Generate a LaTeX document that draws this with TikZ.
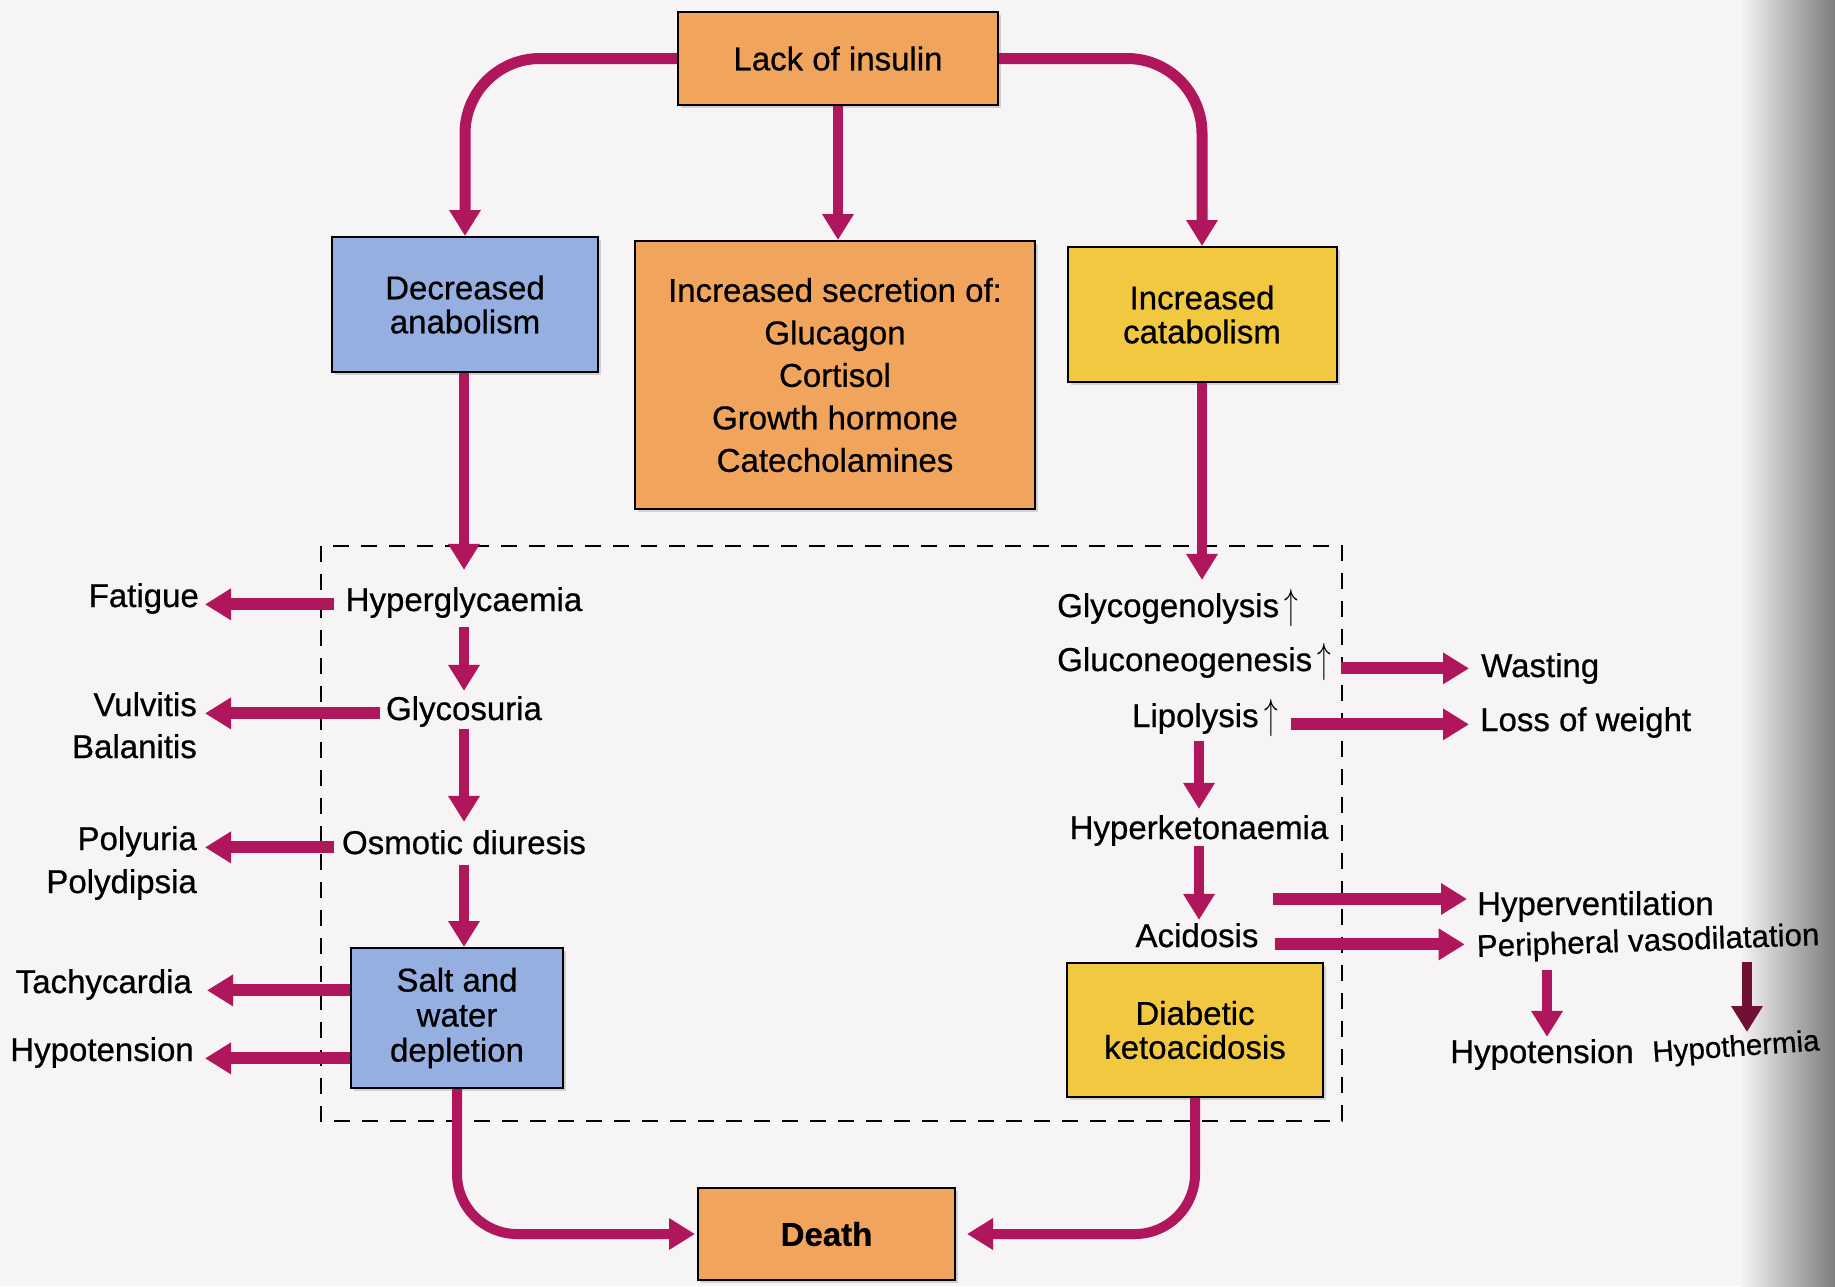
\documentclass[tikz,border=0pt]{standalone}
\usepackage{fontspec}
\setmainfont{Liberation Sans}[FakeBold=0.6]
\usetikzlibrary{arrows.meta,shadows}
\definecolor{arrowc}{RGB}{176,22,92}
\definecolor{arrowdark}{RGB}{112,16,52}
\definecolor{boxorange}{RGB}{240,164,92}
\definecolor{boxblue}{RGB}{150,175,225}
\definecolor{boxyellow}{RGB}{243,200,65}
\definecolor{pagebg}{RGB}{246,244,244}
\definecolor{edgegray}{RGB}{125,125,125}
\newcommand{\upar}{\,\raisebox{-1.5pt}{\scalebox{1.1}[1.7]{$\uparrow$}}}
\begin{document}
\begin{tikzpicture}[x=1pt,y=-1pt,
  every node/.style={font=\fontsize{33}{34}\selectfont, text=black},
  box/.style={draw=black, line width=2pt, align=center, inner sep=0pt,
    drop shadow={shadow xshift=3pt, shadow yshift=-3pt, opacity=0.3}},
  lbl/.style={inner sep=0pt},
  conn/.style={draw=arrowc, -{Triangle[width=30pt,length=26pt]}},
  varr/.style={conn, line width=10pt},
  harr/.style={conn, line width=12pt},
]
\useasboundingbox (0,0) rectangle (1835,1286);
\fill[pagebg] (0,0) rectangle (1835,1286);
\shade[left color=pagebg, right color=edgegray] (1740,0) rectangle (1835,1286);

% dashed frame
\draw[black, line width=2.2pt, dash pattern=on 16pt off 12pt] (321,546) rectangle (1342,1121);

% boxes
\node[box, fill=boxorange, minimum width=320pt, minimum height=93pt] (lack) at (838,58.5) {Lack of insulin};
\node[box, fill=boxblue, minimum width=266pt, minimum height=135pt] (dec) at (465,304.5) {Decreased\\anabolism};
\node[box, fill=boxorange, minimum width=400pt, minimum height=268pt, font=\fontsize{33}{42.5}\selectfont] (sec) at (835,375) {Increased secretion of:\\Glucagon\\Cortisol\\Growth hormone\\Catecholamines};
\node[box, fill=boxyellow, minimum width=269pt, minimum height=135pt] (cat) at (1202,314.5) {Increased\\catabolism};
\node[box, fill=boxblue, minimum width=212pt, minimum height=140pt, font=\fontsize{33}{35}\selectfont] (salt) at (457,1018) {Salt and\\water\\depletion};
\node[box, fill=boxyellow, minimum width=256pt, minimum height=134pt] (dka) at (1195,1030) {Diabetic\\ketoacidosis};
\node[box, fill=boxorange, minimum width=257pt, minimum height=92pt, font=\fontsize{33}{34}\selectfont\bfseries] (death) at (826.5,1234) {Death};

% left column labels
\node[lbl, anchor=base] (hyp) at (464,611) {Hyperglycaemia};
\node[lbl, anchor=base east] (fat) at (199,607) {Fatigue};
\node[lbl, anchor=base] (gly) at (464,720) {Glycosuria};
\node[lbl, anchor=base east] (vul) at (197,716) {Vulvitis};
\node[lbl, anchor=base east] (bal) at (197,758) {Balanitis};
\node[lbl, anchor=base] (osm) at (464,854) {Osmotic diuresis};
\node[lbl, anchor=base east] (pu) at (197,850) {Polyuria};
\node[lbl, anchor=base east] (pd) at (197,893) {Polydipsia};
\node[lbl, anchor=base east] (tach) at (192,993) {Tachycardia};
\node[lbl, anchor=base east] (hypoL) at (194,1061) {Hypotension};

% right column labels
\node[lbl, anchor=base west] (glyg) at (1057,617) {Glycogenolysis\upar};
\node[lbl, anchor=base west] (glu) at (1057,671) {Gluconeogenesis\upar};
\node[lbl, anchor=base east] (lip) at (1278,727) {Lipolysis\upar};
\node[lbl, anchor=base west] (was) at (1481,677) {Wasting};
\node[lbl, anchor=base west] (low) at (1480,731) {Loss of weight};
\node[lbl, anchor=base] (hk) at (1199,839) {Hyperketonaemia};
\node[lbl, anchor=base] (acid) at (1197,947) {Acidosis};
\node[lbl, anchor=base west] (hv) at (1477,915) {Hyperventilation};
\node[lbl, anchor=base west, rotate=2, font=\fontsize{31.3}{34}\selectfont] (pv) at (1477,957) {Peripheral vasodilatation};
\node[lbl, anchor=base] (hypoR) at (1542,1063) {Hypotension};
\node[lbl, anchor=base west, rotate=4, font=\fontsize{29.5}{34}\selectfont] (hth) at (1653,1062) {Hypothermia};

\coordinate (hvStart) at (1273,899);
\coordinate (hpStart) at (1547,970);
\coordinate (htStart) at (1747,962);
\coordinate (htTip) at (1747,1032);

% connectors from the top box
\draw[varr, line width=11pt, rounded corners=75pt] (lack.west) -| (dec.north);
\draw[varr, line width=11pt, rounded corners=75pt] (lack.east) -| (cat.north);
\draw[varr] (lack.south) -- (lack.south |- sec.north);

% left chain
\draw[varr, shorten >=17pt] (dec.south -| hyp.north) -- (hyp.north);
\draw[varr, shorten <=9pt, shorten >=5pt] (hyp.south) -- (gly.north);
\draw[varr, shorten <=2pt, shorten >=8pt] (gly.south) -- (osm.north);
\draw[varr, shorten <=10pt] (osm.south) -- (osm.south |- salt.north);

\draw[harr, shorten <=12pt, shorten >=6pt] (hyp.west |- fat.mid east) -- (fat.mid east);
\draw[harr, shorten <=6pt, shorten >=8pt] (gly.west |- vul.mid east) -- (vul.mid east);
\draw[harr, shorten <=8pt, shorten >=8pt] (osm.west |- pu.mid east) -- (pu.mid east);
\draw[harr, shorten >=15pt] (salt.west |- tach.mid east) -- (tach.mid east);
\draw[harr, shorten >=11pt] (salt.west |- hypoL.mid east) -- (hypoL.mid east);

% right chain
\draw[varr, shorten >=9pt] (cat.south) -- (cat.south |- glyg.north);
\draw[varr, shorten <=4pt, shorten >=6pt] (hk.north |- lip.south) -- (hk.north);
\draw[varr, shorten >=3pt] (hk.south) -- (hk.south |- acid.north);

\draw[harr, shorten <=9pt, shorten >=12pt] (glu.mid east) -- (glu.mid east -| was.west);
\draw[harr, shorten <=13pt, shorten >=11pt] (lip.mid east) -- (lip.mid east -| low.west);
\draw[harr, shorten >=10pt] (hvStart) -- (hvStart -| hv.west);
\draw[harr, shorten <=16pt, shorten >=12pt] (acid.mid east) -- (acid.mid east -| pv.west);

\draw[varr, shorten >=2pt] (hpStart) -- (hpStart |- hypoR.north);
\draw[varr, draw=arrowdark] (htStart) -- (htTip);

% to death
\draw[harr, line width=10pt, rounded corners=60pt, shorten >=2pt] (salt.south) |- (death.west);
\draw[harr, line width=10pt, rounded corners=60pt, shorten >=11pt] (dka.south) |- (death.east);
\end{tikzpicture}
\end{document}
